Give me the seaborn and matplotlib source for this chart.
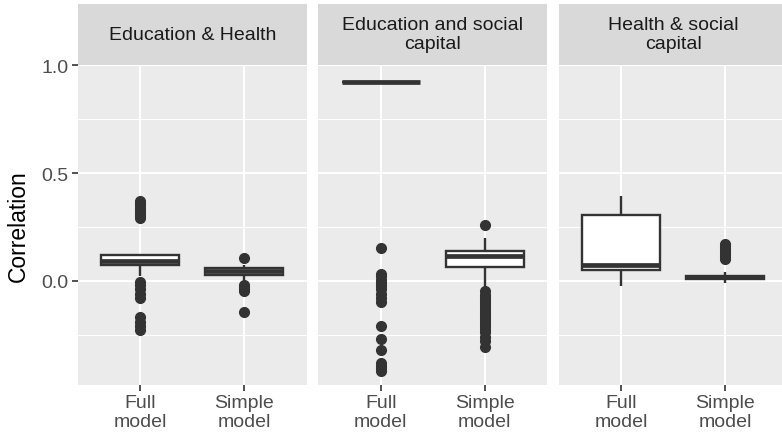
import numpy as np
import pandas as pd
import matplotlib
matplotlib.use("Agg")
import matplotlib.pyplot as plt
import seaborn as sns

# panels and models
panels = ["Education & Health", "Education and social\ncapital", "Health & social\ncapital"]
models = ["Full\nmodel", "Simple\nmodel"]

# box body values (whisker low, q1, median, q3, whisker high) and how often each occurs
eh_full_core = [0.02, 0.072, 0.092, 0.118, 0.125]
eh_simple_core = [0.005, 0.028, 0.045, 0.057, 0.075]
es_full_core = [0.925]
es_simple_core = [-0.03, 0.066, 0.115, 0.137, 0.20]
hs_full_core = [-0.023, 0.052, 0.075, 0.303, 0.395]
hs_simple_core = [-0.012, 0.008, 0.015, 0.022, 0.042]
core_reps = [1, 30, 30, 30, 1]
es_full_reps = [60]

# outliers
eh_full_out = [0.29, 0.30, 0.31, 0.32, 0.33, 0.34, 0.35, 0.36, 0.37,
               -0.005, -0.02, -0.04, -0.06, -0.08, -0.17, -0.19, -0.21, -0.23]
eh_simple_out = [0.105, -0.02, -0.03, -0.04, -0.05, -0.145]
es_full_out = [0.15, 0.033, 0.02, 0.005, -0.01, -0.025, -0.04, -0.06, -0.08, -0.10,
               -0.21, -0.27, -0.32, -0.38, -0.395, -0.405, -0.418]
es_simple_out = [0.26, -0.05, -0.065, -0.075, -0.085, -0.095, -0.105, -0.115, -0.125,
                 -0.135, -0.145, -0.155, -0.165, -0.175, -0.185, -0.195, -0.21,
                 -0.225, -0.24, -0.26, -0.28, -0.31]
hs_full_out = []
hs_simple_out = [0.10, 0.11, 0.12, 0.13, 0.14, 0.15, 0.16, 0.17]

groups = [
    (panels[0], models[0], eh_full_core, core_reps, eh_full_out),
    (panels[0], models[1], eh_simple_core, core_reps, eh_simple_out),
    (panels[1], models[0], es_full_core, es_full_reps, es_full_out),
    (panels[1], models[1], es_simple_core, core_reps, es_simple_out),
    (panels[2], models[0], hs_full_core, core_reps, hs_full_out),
    (panels[2], models[1], hs_simple_core, core_reps, hs_simple_out),
]

rows = []
for panel, model, core, reps, out in groups:
    vals = list(np.repeat(core, reps)) + list(out)
    for v in vals:
        rows.append({"panel": panel, "model": model, "corr": v})
df = pd.DataFrame(rows)

plt.rcParams['font.family'] = ['Liberation Sans', 'DejaVu Sans']

W, H = 782, 435
fig = plt.figure(figsize=(W / 100, H / 100), dpi=100)

panel_left = [78.0, 318.3, 558.7]
panel_w = 228.7
panel_top, panel_bot = 66.0, 385.7
strip_top, strip_bot = 5.0, 65.5

for i, panel in enumerate(panels):
    ax = fig.add_axes([panel_left[i] / W, (H - panel_bot) / H,
                       panel_w / W, (panel_bot - panel_top) / H])
    ax.set_facecolor("#EBEBEB")
    sub = df[df["panel"] == panel]
    sns.boxplot(data=sub, x="model", y="corr", order=models, ax=ax,
                color="white", linecolor="#333333", linewidth=1.7, width=0.75,
                whis=1.5, showcaps=False,
                flierprops=dict(marker="o", markerfacecolor="#333333",
                                markeredgecolor="#333333", markersize=7),
                medianprops=dict(linewidth=3.4), zorder=3)
    ax.set_xlim(-0.6, 1.6)
    ax.set_ylim(-0.483, 1.002)
    ax.set_yticks([0.0, 0.5, 1.0])
    ax.set_yticks([-0.25, 0.25, 0.75], minor=True)
    ax.grid(which="major", color="white", linewidth=1.5, zorder=0)
    ax.grid(which="minor", axis="y", color="white", linewidth=0.75, zorder=0)
    ax.set_axisbelow(True)
    for s in ax.spines.values():
        s.set_visible(False)
    ax.tick_params(axis="both", which="major", length=4, width=1.2,
                   color="#333333", labelcolor="#4D4D4D", labelsize=14, pad=3)
    ax.tick_params(axis="both", which="minor", length=0)
    ax.set_xlabel("")
    ax.set_xticks([0, 1])
    ax.set_xticklabels(models, linespacing=1.1)
    if i == 0:
        ax.set_yticklabels(["0.0", "0.5", "1.0"])
        ax.set_ylabel("Correlation", fontsize=16.5, color="black", labelpad=8)
    else:
        ax.set_ylabel("")
        ax.tick_params(axis="y", which="both", length=0, labelleft=False)

    sax = fig.add_axes([panel_left[i] / W, (H - strip_bot) / H,
                        panel_w / W, (strip_bot - strip_top) / H])
    sax.set_facecolor("#D9D9D9")
    sax.set_xticks([])
    sax.set_yticks([])
    for s in sax.spines.values():
        s.set_visible(False)
    sax.text(0.5, 0.5, panel, ha="center", va="center", fontsize=14,
             color="#1A1A1A", linespacing=1.15, transform=sax.transAxes)

fig.savefig("out.png", dpi=100)
